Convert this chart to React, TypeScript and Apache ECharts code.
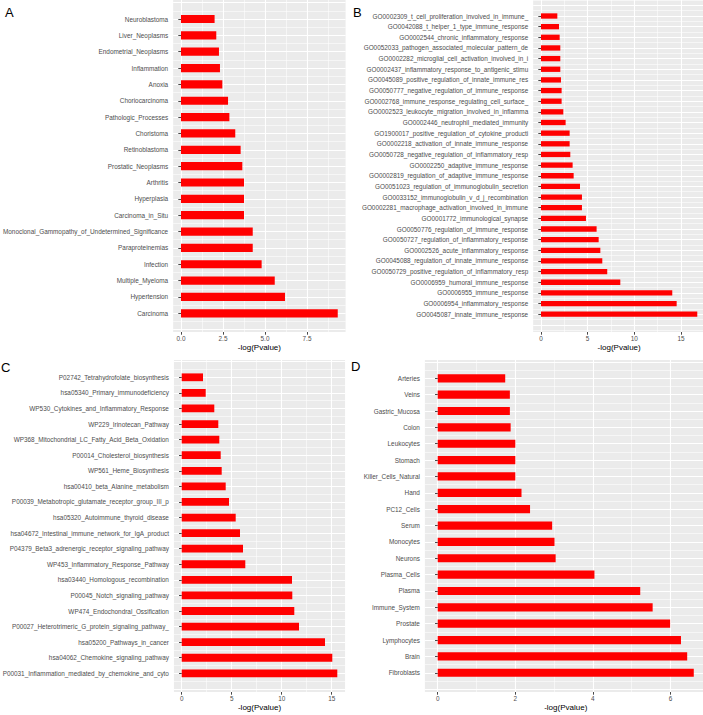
import React, { useEffect, useRef } from 'react';
import * as echarts from 'echarts';

// ---------- Data ----------
const catsA = [
  'Neuroblastoma', 'Liver_Neoplasms', 'Endometrial_Neoplasms', 'Inflammation', 'Anoxia',
  'Choriocarcinoma', 'Pathologic_Processes', 'Choristoma', 'Retinoblastoma', 'Prostatic_Neoplasms',
  'Arthritis', 'Hyperplasia', 'Carcinoma_in_Situ', 'Monoclonal_Gammopathy_of_Undetermined_Significance',
  'Paraproteinemias', 'Infection', 'Multiple_Myeloma', 'Hypertension', 'Carcinoma',
];
const valsA = [2.0, 2.1, 2.26, 2.32, 2.46, 2.8, 2.88, 3.23, 3.55, 3.65, 3.75, 3.75, 3.75, 4.27, 4.27, 4.8, 5.58, 6.19, 9.33];

const catsB = [
  'GO0002309_t_cell_proliferation_involved_in_immune_',
  'GO0042088_t_helper_1_type_immune_response',
  'GO0002544_chronic_inflammatory_response',
  'GO0052033_pathogen_associated_molecular_pattern_de',
  'GO0002282_microglial_cell_activation_involved_in_i',
  'GO0002437_inflammatory_response_to_antigenic_stimu',
  'GO0045089_positive_regulation_of_innate_immune_res',
  'GO0050777_negative_regulation_of_immune_response',
  'GO0002768_immune_response_regulating_cell_surface_',
  'GO0002523_leukocyte_migration_involved_in_inflamma',
  'GO0002446_neutrophil_mediated_immunity',
  'GO1900017_positive_regulation_of_cytokine_producti',
  'GO0002218_activation_of_innate_immune_response',
  'GO0050728_negative_regulation_of_inflammatory_resp',
  'GO0002250_adaptive_immune_response',
  'GO0002819_regulation_of_adaptive_immune_response',
  'GO0051023_regulation_of_immunoglobulin_secretion',
  'GO0033152_immunoglobulin_v_d_j_recombination',
  'GO0002281_macrophage_activation_involved_in_immune',
  'GO0001772_immunological_synapse',
  'GO0050776_regulation_of_immune_response',
  'GO0050727_regulation_of_inflammatory_response',
  'GO0002526_acute_inflammatory_response',
  'GO0045088_regulation_of_innate_immune_response',
  'GO0050729_positive_regulation_of_inflammatory_resp',
  'GO0006959_humoral_immune_response',
  'GO0006955_immune_response',
  'GO0006954_inflammatory_response',
  'GO0045087_innate_immune_response',
];
const valsB = [1.75, 1.93, 2.0, 2.07, 2.07, 2.07, 2.14, 2.21, 2.21, 2.39, 2.64, 3.07, 3.07, 3.14, 3.39, 3.5, 4.18, 4.39, 4.39, 4.82, 5.96, 6.18, 6.36, 6.57, 7.1, 8.5, 14.07, 14.54, 16.75];

const catsC = [
  'P02742_Tetrahydrofolate_biosynthesis',
  'hsa05340_Primary_immunodeficiency',
  'WP530_Cytokines_and_Inflammatory_Response',
  'WP229_Irinotecan_Pathway',
  'WP368_Mitochondrial_LC_Fatty_Acid_Beta_Oxidation',
  'P00014_Cholesterol_biosynthesis',
  'WP561_Heme_Biosynthesis',
  'hsa00410_beta_Alanine_metabolism',
  'P00039_Metabotropic_glutamate_receptor_group_III_p',
  'hsa05320_Autoimmune_thyroid_disease',
  'hsa04672_Intestinal_immune_network_for_IgA_product',
  'P04379_Beta3_adrenergic_receptor_signaling_pathway',
  'WP453_Inflammatory_Response_Pathway',
  'hsa03440_Homologous_recombination',
  'P00045_Notch_signaling_pathway',
  'WP474_Endochondral_Ossification',
  'P00027_Heterotrimeric_G_protein_signaling_pathway_',
  'hsa05200_Pathways_in_cancer',
  'hsa04062_Chemokine_signaling_pathway',
  'P00031_Inflammation_mediated_by_chemokine_and_cyto',
];
const valsC = [2.13, 2.4, 3.26, 3.66, 3.76, 3.9, 4.0, 4.4, 4.73, 5.4, 5.83, 6.13, 6.36, 11.03, 11.06, 11.26, 11.73, 14.33, 15.06, 15.56];

const catsD = [
  'Arteries', 'Veins', 'Gastric_Mucosa', 'Colon', 'Leukocytes', 'Stomach', 'Killer_Cells_Natural',
  'Hand', 'PC12_Cells', 'Serum', 'Monocytes', 'Neurons', 'Plasma_Cells', 'Plasma', 'Immune_System',
  'Prostate', 'Lymphocytes', 'Brain', 'Fibroblasts',
];
const valsD = [1.74, 1.86, 1.86, 1.88, 2.0, 2.0, 2.0, 2.16, 2.38, 2.95, 3.01, 3.04, 4.04, 5.22, 5.54, 5.99, 6.27, 6.43, 6.6];

const axisTitle = '-log(Pvalue)';
const panelLetters = ['A', 'B', 'C', 'D'];

// ---------- Layout (pixels) ----------
const FONT = '"Liberation Sans", Arial, Helvetica, sans-serif';
const panels = [
  { cats: catsA, vals: valsA, zero: 181, ppu: 16.8, first: 19, spacing: 16.35, grayTop: 0, grayBottom: 332, major: 2.5, digits: 1, lx: 5, ly: 6 },
  { cats: catsB, vals: valsB, zero: 541, ppu: 9.33, first: 16, spacing: 10.65, grayTop: 0, grayBottom: 332, major: 5, digits: 0, lx: 353, ly: 6 },
  { cats: catsC, vals: valsC, zero: 181.7, ppu: 10, first: 377.3, spacing: 15.58, grayTop: 360, grayBottom: 692, major: 5, digits: 0, lx: 1, ly: 361 },
  { cats: catsD, vals: valsD, zero: 437.7, ppu: 38.8, first: 378.3, spacing: 16.36, grayTop: 360, grayBottom: 692, major: 2, digits: 0, lx: 351, ly: 360 },
];

function buildOption() {
  const grid: any[] = [];
  const xAxis: any[] = [];
  const yAxis: any[] = [];
  const series: any[] = [];
  const graphic: any[] = [];

  panels.forEach((p, i) => {
    const b = i * 4;
    const N = p.cats.length;
    const max = Math.max(...p.vals);
    const gmin = -0.05 * max;
    const gmax = 1.05 * max;
    const grayLeft = p.zero + gmin * p.ppu;
    const grayW = (gmax - gmin) * p.ppu;
    const grayH = p.grayBottom - p.grayTop;
    const vMin = -p.major;
    const vMax = Math.ceil(gmax / p.major) * p.major;
    const majors: number[] = [];
    for (let k = 0; k * p.major <= gmax; k++) majors.push(+(k * p.major).toFixed(4));
    const white = '#FFFFFF';

    // 0: gray panel background + axis title
    grid.push({ left: grayLeft, top: p.grayTop, width: grayW, height: grayH, show: true, backgroundColor: '#EBEBEB', borderWidth: 0, containLabel: false, outerBoundsMode: 'none' });
    // 1: vertical gridlines + x tick labels
    grid.push({ left: p.zero + vMin * p.ppu, top: p.grayTop, width: (vMax - vMin) * p.ppu, height: grayH, containLabel: false, outerBoundsMode: 'none' });
    // 2: horizontal gridlines
    grid.push({ left: grayLeft, top: p.first - 2 * p.spacing, width: grayW, height: (N + 3) * p.spacing, containLabel: false, outerBoundsMode: 'none' });
    // 3: bars + category labels
    grid.push({ left: grayLeft, top: p.first, width: grayW, height: (N - 1) * p.spacing, containLabel: false, outerBoundsMode: 'none' });

    xAxis.push({
      gridIndex: b, type: 'value', min: gmin, max: gmax,
      axisLine: { show: false }, axisTick: { show: false }, axisLabel: { show: false }, splitLine: { show: false },
      name: axisTitle, nameLocation: 'middle', nameGap: 11,
      nameTextStyle: { color: '#000000', fontSize: 8, fontFamily: FONT }, z: 3,
    });
    yAxis.push({ gridIndex: b, type: 'value', show: false, splitLine: { show: false } });

    xAxis.push({
      gridIndex: b + 1, type: 'value', min: vMin, max: vMax, interval: p.major,
      axisLine: { show: false },
      axisTick: { show: true, length: 2.7, lineStyle: { color: '#333333', width: 0.9 }, customValues: majors },
      axisLabel: {
        color: '#4D4D4D', fontSize: 6.4, fontFamily: FONT, margin: 3,
        formatter: (v: number) => (v < -1e-9 || v > gmax ? '' : v.toFixed(p.digits)),
      },
      splitLine: { show: true, lineStyle: { color: white, width: 1.1 } },
      minorTick: { show: false, splitNumber: 2 },
      minorSplitLine: { show: true, lineStyle: { color: white, width: 0.55 } },
      z: 2,
    });
    yAxis.push({ gridIndex: b + 1, type: 'value', show: false, splitLine: { show: false } });

    xAxis.push({ gridIndex: b + 2, type: 'value', show: false, splitLine: { show: false } });
    yAxis.push({
      gridIndex: b + 2, type: 'value', inverse: true, min: -2, max: N + 1, interval: 1,
      axisLine: { show: false }, axisTick: { show: false }, axisLabel: { show: false },
      splitLine: { show: true, lineStyle: { color: white, width: 1.1 } },
      minorTick: { show: false, splitNumber: 2 },
      minorSplitLine: { show: true, lineStyle: { color: white, width: 0.55 } },
      z: 1,
    });

    xAxis.push({ gridIndex: b + 3, type: 'value', min: gmin, max: gmax, show: false, splitLine: { show: false } });
    yAxis.push({
      gridIndex: b + 3, type: 'category', data: p.cats, inverse: true, boundaryGap: false,
      axisLine: { show: false },
      axisTick: { show: true, length: 2.7, lineStyle: { color: '#333333', width: 0.9 } },
      axisLabel: { interval: 0, color: '#4D4D4D', fontSize: 6.4, fontFamily: FONT, margin: 5 },
      splitLine: { show: false },
      z: 5,
    });

    series.push({
      type: 'bar', xAxisIndex: b + 3, yAxisIndex: b + 3, data: p.vals,
      barWidth: 0.5 * p.spacing, itemStyle: { color: '#FF0000' }, clip: false, z: 4, silent: true,
    });

    graphic.push({
      type: 'text', left: p.lx, top: p.ly, z: 10,
      style: { text: panelLetters[i], fontSize: 13, fontFamily: FONT, fill: '#000000' },
    });
  });

  return { animation: false, backgroundColor: '#FFFFFF', grid, xAxis, yAxis, series, graphic };
}

export default function App() {
  const ref = useRef<HTMLDivElement>(null);
  useEffect(() => {
    if (!ref.current) return;
    const chart = echarts.init(ref.current, undefined, { renderer: 'svg' });
    chart.setOption(buildOption() as any);
    return () => chart.dispose();
  }, []);
  return <div ref={ref} style={{ position: 'absolute', left: 0, top: 0, width: 703, height: 715 }} />;
}
